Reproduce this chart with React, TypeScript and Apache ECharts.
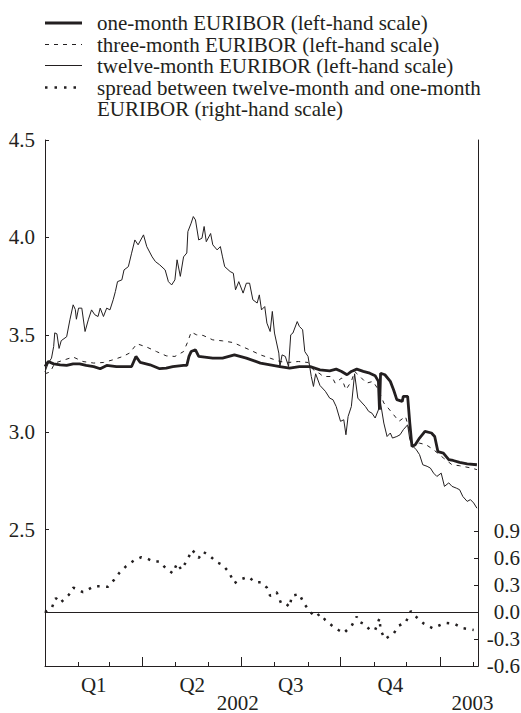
import React, { useEffect, useRef } from "react";
import * as echarts from "echarts";

const INK = "#231f20";
const FONT = "'Liberation Serif', 'Times New Roman', serif";

// x positions are days since 1 January 2002
const oneMonthDays = [0,3,8,14,20,26,32,38,45,51,57,66,75,80,84,88,97,106,112,118,128,131,133,135,139,142,155,164,175,186,199,208,217,226,235,245,254,263,269,274,279,283,288,294,300,305,308,309,310,314,319,322,325,330,331,335,337,339,342,346,351,357,360,363,368,373,377,383,390,399];
const oneMonthValues = [3.337,3.363,3.351,3.346,3.343,3.351,3.351,3.343,3.337,3.326,3.343,3.337,3.337,3.337,3.389,3.358,3.346,3.326,3.329,3.337,3.343,3.343,3.389,3.414,3.423,3.389,3.38,3.38,3.397,3.38,3.355,3.346,3.337,3.329,3.337,3.337,3.32,3.315,3.324,3.312,3.295,3.312,3.324,3.312,3.303,3.29,3.261,3.115,3.303,3.295,3.261,3.218,3.167,3.158,3.184,3.184,3.047,2.927,2.936,2.97,3.004,2.996,2.978,2.9,2.893,2.859,2.855,2.845,2.838,2.833];

const threeMonthDays = [0,5,9,26,35,45,54,63,72,78,85,94,103,112,120,128,132,135,140,146,155,164,174,180,189,199,208,217,225,234,243,248,254,257,265,268,274,278,283,286,291,297,303,308,313,317,322,327,333,336,340,346,352,359,368,376,383,394,399];
const threeMonthValues = [3.3,3.31,3.355,3.386,3.363,3.355,3.358,3.372,3.389,3.406,3.454,3.437,3.414,3.392,3.389,3.414,3.466,3.514,3.5,3.497,3.474,3.469,3.46,3.445,3.423,3.397,3.38,3.363,3.358,3.363,3.358,3.32,3.3,3.286,3.286,3.252,3.278,3.218,3.261,3.312,3.286,3.252,3.261,3.218,3.15,3.124,3.09,3.056,3.081,3.022,2.927,2.944,2.936,2.91,2.868,2.833,2.828,2.816,2.808];

const twelveMonthDays = [0,3,6,8,9,11,13,15,20,23,26,28,29,31,34,37,40,43,46,49,51,54,57,60,63,65,67,71,73,77,80,83,86,91,94,99,102,106,111,114,117,120,122,125,128,131,132,135,137,139,142,145,147,149,153,155,159,162,164,166,171,174,176,179,183,186,189,192,196,198,200,203,205,208,210,212,216,217,219,222,225,227,229,233,235,238,240,243,246,248,250,254,259,263,266,269,273,276,278,280,283,286,289,293,296,299,302,305,308,309,313,316,319,321,325,328,331,335,337,340,343,346,349,353,356,359,362,366,369,373,376,380,383,386,390,393,396,399];
const twelveMonthValues = [3.31,3.355,3.38,3.44,3.51,3.505,3.43,3.47,3.49,3.577,3.654,3.63,3.58,3.637,3.637,3.517,3.577,3.628,3.603,3.594,3.637,3.594,3.637,3.628,3.68,3.722,3.773,3.782,3.833,3.85,3.919,3.987,3.962,4.013,3.953,3.9,3.876,3.859,3.833,3.773,3.756,3.782,3.885,3.8,3.9,3.92,4.03,4.073,4.107,4.09,3.987,3.996,4.056,3.978,4.02,3.962,3.936,3.953,3.9,3.85,3.825,3.816,3.731,3.773,3.714,3.765,3.765,3.68,3.663,3.705,3.628,3.645,3.56,3.517,3.62,3.509,3.406,3.337,3.397,3.389,3.337,3.5,3.509,3.568,3.543,3.526,3.414,3.389,3.286,3.235,3.3,3.24,3.21,3.175,3.167,3.132,3.056,3.064,2.987,3.081,3.132,3.3,3.175,3.15,3.132,3.107,3.098,3.073,3.115,3.184,3.047,2.978,2.996,2.97,2.978,2.987,3.013,3.038,2.962,2.927,2.91,2.885,2.833,2.825,2.816,2.79,2.773,2.79,2.722,2.74,2.722,2.713,2.705,2.67,2.645,2.654,2.637,2.61];

const spreadDays = [0,6,10,14,22,26,30,35,40,45,52,58,64,69,75,82,89,95,100,106,112,118,122,126,131,136,142,146,152,159,164,170,175,180,188,194,200,205,208,214,218,222,226,228,235,239,245,250,254,259,266,271,276,279,283,288,289,296,300,305,309,310,314,322,327,333,338,343,350,358,364,370,378,386,396];
const spreadValues = [0,0.04,0.155,0.1,0.19,0.27,0.255,0.22,0.25,0.285,0.285,0.28,0.36,0.44,0.51,0.57,0.61,0.59,0.56,0.56,0.48,0.43,0.54,0.47,0.57,0.69,0.6,0.67,0.625,0.55,0.525,0.44,0.32,0.36,0.39,0.33,0.33,0.27,0.18,0.22,0.1,0.1,0.055,0.18,0.2,0.1,0,-0.055,-0.02,-0.09,-0.16,-0.2,-0.235,-0.2,-0.16,-0.05,-0.1,-0.14,-0.2,-0.2,-0.07,-0.2,-0.3,-0.24,-0.15,-0.12,0.01,-0.055,-0.13,-0.18,-0.15,-0.12,-0.13,-0.18,-0.2];

const monthStartDays = [0,31,59,90,120,151,181,212,243,273,304,334,365,396];
const quarterStartDays = [0,90,181,273,365];
const quarterLabels = ["Q1","Q2","Q3","Q4"];
const quarterLabelDays = [45,136,227,319];
const yearLabels = ["2002","2003"];
const yearLabelDays = [178,395];
const leftTicks = [2.5,3.0,3.5,4.0,4.5];

const legendLabels = [
  "one-month EURIBOR (left-hand scale)",
  "three-month EURIBOR (left-hand scale)",
  "twelve-month EURIBOR (left-hand scale)",
  "spread between twelve-month and one-month",
  "EURIBOR (right-hand scale)",
];

const pairs = (d: number[], v: number[]) => d.map((x, i) => [x, v[i]]);

export default function App() {
  const ref = useRef<HTMLDivElement>(null);
  useEffect(() => {
    if (!ref.current) return;
    const chart = echarts.init(ref.current, undefined, { renderer: "svg" });
    const txt = { color: INK, fontFamily: FONT, fontSize: 21 };
    const legendY = [23, 44.5, 66, 87.5, 109];
    const lineY = [23, 44.5, 65.5, 87.5];
    const lineStyles: any[] = [
      { lineWidth: 3 },
      { lineWidth: 1, lineDash: [4, 5] },
      { lineWidth: 1 },
      { lineWidth: 2.5, lineDash: [2.5, 7] },
    ];
    chart.setOption({
      animation: false,
      backgroundColor: "#fff",
      textStyle: { fontFamily: FONT },
      grid: [
        { left: 45, right: 43, top: 140, bottom: 47, containLabel: false, outerBoundsMode: "none" },
        { left: 45, right: 43, top: 531, bottom: 47, containLabel: false, outerBoundsMode: "none" },
      ],
      xAxis: [
        {
          gridIndex: 0, type: "value", min: 0, max: 400, position: "bottom",
          axisLine: { show: true, onZero: false, lineStyle: { color: INK, width: 1 } },
          axisTick: { show: true, inside: true, length: 4, customValues: monthStartDays, lineStyle: { color: INK } },
          axisLabel: {
            ...txt, margin: 8, customValues: quarterLabelDays,
            formatter: (v: number) => quarterLabels[quarterLabelDays.indexOf(v)] ?? "",
          },
          splitLine: { show: false },
        },
        {
          gridIndex: 0, type: "value", min: 0, max: 400, position: "bottom",
          axisLine: { show: false, onZero: false },
          axisTick: { show: true, inside: true, length: 9, customValues: quarterStartDays, lineStyle: { color: INK } },
          axisLabel: {
            ...txt, margin: 26, customValues: yearLabelDays,
            formatter: (v: number) => yearLabels[yearLabelDays.indexOf(v)] ?? "",
          },
          splitLine: { show: false },
        },
        {
          gridIndex: 1, type: "value", min: 0, max: 400,
          axisLine: { show: true, onZero: true, lineStyle: { color: INK, width: 1 } },
          axisTick: { show: false },
          axisLabel: { show: false },
          splitLine: { show: false },
        },
      ],
      yAxis: [
        {
          gridIndex: 0, type: "value", min: 1.8, max: 4.5, position: "left",
          axisLine: { show: true, onZero: false, lineStyle: { color: INK, width: 1 } },
          axisTick: { show: true, inside: true, length: 4, customValues: leftTicks, lineStyle: { color: INK } },
          axisLabel: { ...txt, margin: 10, customValues: leftTicks, formatter: (v: number) => v.toFixed(1) },
          splitLine: { show: false },
        },
        {
          gridIndex: 0, type: "value", min: 0, max: 1, position: "right",
          axisLine: { show: true, onZero: false, lineStyle: { color: INK, width: 1 } },
          axisTick: { show: false }, axisLabel: { show: false }, splitLine: { show: false },
        },
        {
          gridIndex: 1, type: "value", min: -0.6, max: 0.9, interval: 0.3, position: "right",
          axisLine: { show: true, onZero: false, lineStyle: { color: INK, width: 1 } },
          axisTick: { show: true, inside: true, length: 4, lineStyle: { color: INK } },
          axisLabel: { ...txt, margin: 42, align: "right", formatter: (v: number) => v.toFixed(1) },
          splitLine: { show: false },
        },
      ],
      series: [
        {
          name: "twelve-month", type: "line", xAxisIndex: 0, yAxisIndex: 0, symbol: "none",
          data: pairs(twelveMonthDays, twelveMonthValues),
          lineStyle: { color: INK, width: 1 },
        },
        {
          name: "three-month", type: "line", xAxisIndex: 0, yAxisIndex: 0, symbol: "none",
          data: pairs(threeMonthDays, threeMonthValues),
          lineStyle: { color: INK, width: 1, type: [4, 5] },
        },
        {
          name: "one-month", type: "line", xAxisIndex: 0, yAxisIndex: 0, symbol: "none",
          data: pairs(oneMonthDays, oneMonthValues),
          lineStyle: { color: INK, width: 2.8 },
        },
        {
          name: "spread", type: "line", xAxisIndex: 2, yAxisIndex: 2, symbol: "none",
          data: pairs(spreadDays, spreadValues),
          lineStyle: { color: INK, width: 2.5, type: [2.5, 6.5] },
        },
      ],
      graphic: [
        ...lineY.map((y, i) => ({
          type: "line",
          shape: { x1: 45, y1: y, x2: 82, y2: y },
          style: { stroke: INK, ...lineStyles[i] },
        })),
        ...legendLabels.map((t, i) => ({
          type: "text",
          x: 97,
          y: legendY[i],
          style: { text: t, fill: INK, fontSize: 21, fontFamily: FONT, verticalAlign: "middle", align: "left" },
        })),
      ],
    });
    return () => chart.dispose();
  }, []);
  return (
    <div
      ref={ref}
      style={{ position: "fixed", left: 0, top: 0, width: 521, height: 713, background: "#fff" }}
    />
  );
}
